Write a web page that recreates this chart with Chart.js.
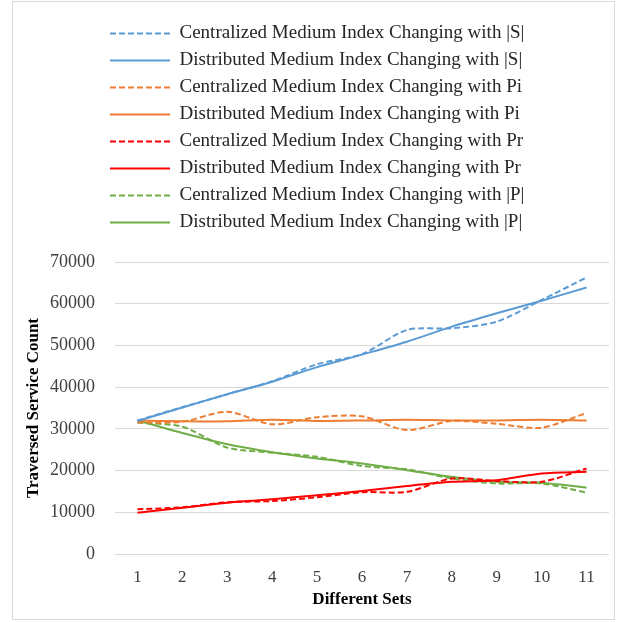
<!DOCTYPE html>
<html>
<head>
<meta charset="utf-8">
<script src="https://cdn.jsdelivr.net/npm/chart.js@4.4.1/dist/chart.umd.min.js"></script>
<style>
    body { margin: 0; background: #fff; }
    #box { position: absolute; left: 12px; top: 1px; width: 601px; height: 617px; border: 1px solid #d9d9d9; }
</style>
</head>
<body>
<div id="box"><canvas id="chart" width="601" height="617"></canvas></div>
<script>
// data
const sets = ['1', '2', '3', '4', '5', '6', '7', '8', '9', '10', '11'];
const centralS = [32000, 35200, 38300, 41400, 45500, 47900, 53700, 54100, 55700, 60900, 66300];
const distS = [31900, 35100, 38300, 41300, 44800, 47800, 50900, 54500, 57700, 60700, 63900];
const centralPi = [31500, 31700, 34100, 31100, 32800, 33000, 29700, 31900, 31200, 30300, 33800];
const distPi = [32000, 31800, 31800, 32200, 31900, 32000, 32200, 32000, 32000, 32200, 32000];
const centralPr = [10700, 11200, 12400, 12700, 13600, 14800, 14900, 18100, 17500, 17300, 20500];
const distPr = [9900, 11100, 12300, 13100, 14100, 15100, 16300, 17300, 17700, 19300, 19700];
const centralP = [31500, 30500, 25500, 24300, 23300, 21100, 20300, 18100, 16900, 16900, 14700];
const distP = [32000, 29000, 26300, 24400, 22900, 21700, 20100, 18500, 17300, 17100, 15900];

const serif = "'Liberation Serif', 'Times New Roman', serif";

function line(label, data, color, dashed) {
    return {
        label: label,
        data: data,
        borderColor: color,
        backgroundColor: color,
        borderWidth: 2,
        borderDash: dashed ? [6, 3] : [],
        pointRadius: 0,
        pointStyle: 'line',
        tension: 0.28,
        fill: false
    };
}

// move the legend block so its lines start above the plot, the plot keeps its place
const legendShift = {
    id: 'legendShift',
    afterLayout(chart) {
        chart.legend.left = 89;
        chart.legend.top = 14;
    }
};

new Chart(document.getElementById('chart'), {
    type: 'line',
    data: {
        labels: sets,
        datasets: [
            line('Centralized Medium Index Changing with |S|', centralS, '#5B9BD5', true),
            line('Distributed Medium Index Changing with |S|', distS, '#5B9BD5', false),
            line('Centralized Medium Index Changing with Pi', centralPi, '#ED7D31', true),
            line('Distributed Medium Index Changing with Pi', distPi, '#ED7D31', false),
            line('Centralized Medium Index Changing with Pr', centralPr, '#FF0000', true),
            line('Distributed Medium Index Changing with Pr', distPr, '#FF0000', false),
            line('Centralized Medium Index Changing with |P|', centralP, '#70AD47', true),
            line('Distributed Medium Index Changing with |P|', distP, '#70AD47', false)
        ]
    },
    plugins: [legendShift],
    options: {
        responsive: false,
        animation: false,
        layout: { padding: { top: 34, right: 5, left: 0, bottom: 0 } },
        plugins: {
            legend: {
                position: 'top',
                align: 'start',
                labels: {
                    usePointStyle: true,
                    pointStyleWidth: 60,
                    padding: 8,
                    color: '#262626',
                    font: { family: serif, size: 19 },
                    generateLabels(chart) {
                        const items = Chart.defaults.plugins.legend.labels.generateLabels(chart);
                        items.forEach((it, i) => {
                            const ds = chart.data.datasets[i];
                            it.lineDash = ds.borderDash;
                            it.strokeStyle = ds.borderColor;
                            it.lineWidth = 2;
                        });
                        return items;
                    }
                }
            },
            tooltip: { enabled: false }
        },
        scales: {
            x: {
                offset: true,
                grid: { display: false },
                border: { display: false },
                ticks: { color: '#404040', padding: 5, font: { family: serif, size: 17 } },
                title: { display: true, text: 'Different Sets', color: '#000', padding: { top: 0, bottom: 9 }, font: { family: serif, size: 17, weight: 'bold' } },
                afterFit(scale) { scale.height = 65; }
            },
            y: {
                min: 0,
                max: 70000,
                grid: { color: '#d9d9d9', drawTicks: false },
                border: { display: false },
                ticks: {
                    stepSize: 10000,
                    color: '#404040',
                    padding: 20,
                    font: { family: serif, size: 18 },
                    callback: v => String(v)
                },
                title: { display: true, text: 'Traversed Service Count', color: '#000', padding: { top: 10, bottom: 0 }, font: { family: serif, size: 17, weight: 'bold' } },
                afterFit(scale) { scale.width = 102; }
            }
        }
    }
});
</script>
</body>
</html>
